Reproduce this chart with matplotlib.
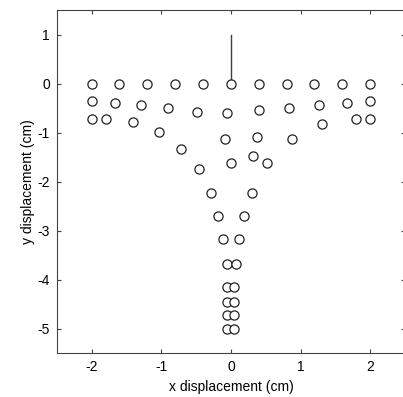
import matplotlib
matplotlib.use('Agg')
import matplotlib.pyplot as plt

plt.rcParams['font.family'] = ['Liberation Sans', 'DejaVu Sans']
plt.rcParams['axes.unicode_minus'] = False

# top row
x_top = [-2, -1.6, -1.2, -0.8, -0.4, 0, 0.4, 0.8, 1.2, 1.6, 2]
y_top = [0, 0, 0, 0, 0, 0, 0, 0, 0, 0, 0]

# second row
x_mid = [-2, -1.66, -1.29, -0.91, -0.49, -0.05, 0.40, 0.84, 1.26, 1.66, 2]
y_mid = [-0.35, -0.38, -0.43, -0.50, -0.57, -0.59, -0.54, -0.49, -0.43, -0.38, -0.35]

# left-hand trail
x_left = [-2, -1.80, -1.40, -1.03, -0.71, -0.46, -0.29, -0.18, -0.11, -0.06, -0.05, -0.05, -0.05, -0.05]
y_left = [-0.71, -0.71, -0.77, -0.99, -1.32, -1.74, -2.23, -2.70, -3.17, -3.67, -4.15, -4.44, -4.72, -5.0]

# right-hand trail
x_right = [2, 1.80, 1.31, 0.87, 0.52, 0.30, 0.19, 0.12, 0.07, 0.05, 0.05, 0.05, 0.05]
y_right = [-0.71, -0.71, -0.82, -1.13, -1.62, -2.23, -2.70, -3.17, -3.67, -4.15, -4.44, -4.72, -5.0]

# inner points
x_inner = [-0.08, 0.37, 0.32, 0]
y_inner = [-1.13, -1.08, -1.46, -1.62]

x_ticks = [-2, -1, 0, 1, 2]
y_ticks = [-5, -4, -3, -2, -1, 0, 1]

fig = plt.figure(figsize=(4.03, 3.97), dpi=100)
ax = fig.add_axes([0.141, 0.1096, 0.864, 0.864])

ax.plot([0, 0], [0, 1], color='#404040', lw=1)
for xs, ys in [(x_top, y_top), (x_mid, y_mid), (x_left, y_left),
               (x_right, y_right), (x_inner, y_inner)]:
    ax.plot(xs, ys, 'o', mfc='white', mec='#222222', mew=0.9, ms=6.6, ls='none')

ax.set_xlim(-2.5, 2.5)
ax.set_ylim(-5.5, 1.5)
ax.set_xticks(x_ticks)
ax.set_yticks(y_ticks)
ax.tick_params(direction='in', top=True, right=True, length=3, labelsize=10,
               color='#444444', pad=5)
for s in ax.spines.values():
    s.set_color('#444444')
ax.set_xlabel('x displacement (cm)', fontsize=10, labelpad=4)
ax.set_ylabel('y displacement (cm)', fontsize=10, labelpad=2)

fig.savefig('out.png', dpi=100)
